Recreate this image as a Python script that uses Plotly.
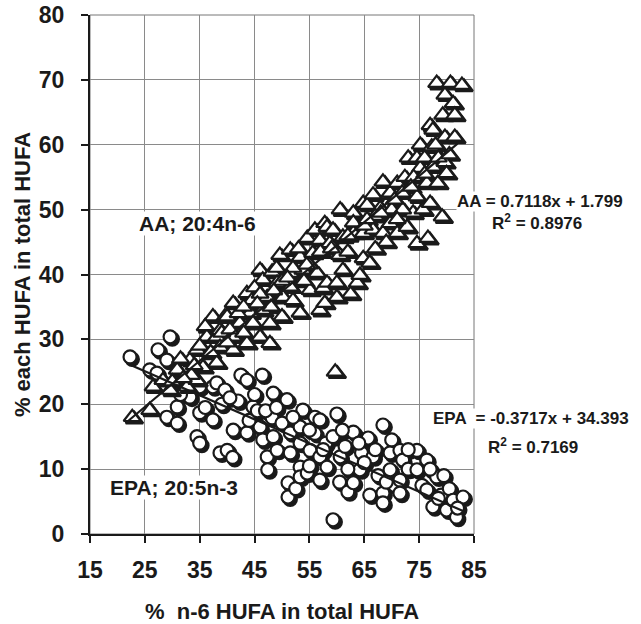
import plotly.graph_objects as go
import numpy as np

# ---- data ----
aa_x = [22.7, 25.9, 26.5, 28.3, 29.6, 30.9, 32.7, 33.2, 34.5, 34.5, 35.6, 36.3, 36.9, 37.4, 38.1, 38.1,
        38.7, 38.7, 39.6, 40.0, 41.1, 41.1, 41.1, 42.3, 43.6, 43.6, 44.2, 44.7, 46.0, 46.0, 46.5, 46.5,
        47.3, 47.8, 47.8, 48.2, 49.1, 49.6, 50.2, 51.5, 51.5, 51.5, 53.3, 53.3, 53.8, 54.6, 55.1, 55.6,
        56.0, 56.4, 56.9, 56.9, 57.5, 57.8, 57.8, 58.2, 58.2, 58.7, 59.3, 59.7, 60.0, 60.6, 61.1, 61.1,
        63.0, 63.0, 63.7, 64.2, 64.8, 64.8, 64.8, 65.5, 66.0, 66.6, 66.6, 67.9, 68.4, 68.4, 69.7, 69.7,
        71.0, 71.0, 71.9, 72.4, 72.8, 73.0, 73.9, 74.6, 74.6, 74.6, 75.2, 75.2, 75.7, 76.4, 76.6, 77.0,
        77.0, 77.3, 77.5, 77.5, 78.2, 78.4, 79.2, 79.3, 79.7, 79.7, 79.7, 80.0, 80.7, 81.2, 81.5, 81.5,
        82.8, 31.5, 33.5, 35.0, 36.0, 39.0, 40.0, 42.0, 43.0, 44.5, 45.0, 46.0, 48.0, 49.0, 50.0, 52.0,
        53.0, 54.0, 55.0, 52.0, 50.0, 60.5, 62.0, 63.0, 65.0, 67.0, 70.0, 72.0, 74.0, 76.0, 78.0, 71.0,
        69.0, 67.0, 62.5, 60.0, 30.0, 32.0, 34.0, 37.0, 40.5, 43.0, 45.5, 48.5, 51.0, 54.5, 57.0, 59.0,
        62.0, 65.5, 68.0, 70.5, 73.5, 76.0, 78.5, 80.5]
aa_y = [18.0, 19.1, 22.7, 23.7, 22.2, 25.3, 22.7, 26.8, 23.7, 28.4, 25.7, 30.4, 27.9, 33.5, 26.4, 30.4,
        31.4, 28.8, 33.5, 33.5, 30.4, 28.4, 35.6, 32.5, 37.1, 29.4, 34.1, 32.5, 40.7, 30.4, 39.2, 34.5,
        36.5, 32.5, 29.4, 40.4, 38.7, 43.0, 36.5, 43.8, 40.2, 38.1, 42.7, 34.1, 40.7, 45.6, 37.6, 43.3,
        46.9, 40.2, 45.3, 34.5, 37.9, 47.9, 35.6, 38.7, 47.3, 44.8, 46.9, 25.0, 38.7, 50.0, 45.8, 40.7,
        49.5, 46.4, 38.7, 39.9, 46.4, 42.5, 51.0, 50.7, 41.8, 46.9, 52.3, 50.2, 46.4, 54.3, 47.9, 52.6,
        46.4, 54.1, 52.6, 55.0, 47.3, 58.0, 49.5, 44.8, 52.0, 58.0, 60.0, 56.4, 50.0, 54.1, 45.6, 63.0,
        51.0, 59.7, 62.3, 56.6, 69.5, 54.1, 48.9, 64.6, 67.7, 61.2, 57.3, 55.6, 69.5, 66.4, 64.6, 61.2,
        69.2, 27.0, 24.5, 29.0, 32.0, 31.0, 29.5, 34.0, 31.0, 36.0, 38.0, 37.0, 35.0, 41.0, 39.0, 41.0,
        44.0, 39.0, 41.5, 36.0, 33.5, 43.0, 43.5, 48.0, 47.5, 49.0, 50.0, 50.0, 55.0, 58.0, 60.0, 48.5,
        45.0, 44.0, 37.0, 36.5, 23.5, 24.0, 26.0, 28.0, 31.5, 35.0, 35.5, 37.5, 39.5, 41.5, 43.5, 44.0,
        46.0, 48.5, 49.5, 51.5, 53.5, 55.5, 58.0, 58.5]

epa_x = [22.3, 25.9, 27.2, 27.4, 29.0, 29.6, 29.0, 30.9, 30.9, 32.0, 33.2, 34.5, 35.0, 35.0, 35.0, 37.4,
         37.4, 38.1, 38.7, 39.6, 40.0, 41.1, 41.0, 42.0, 42.5, 43.6, 43.6, 44.7, 45.0, 46.0, 46.4, 46.5,
         47.3, 47.4, 48.2, 48.4, 48.4, 49.1, 50.0, 50.9, 51.1, 51.1, 51.5, 51.5, 52.5, 53.3, 53.3, 53.3,
         53.3, 53.8, 54.6, 55.1, 56.0, 56.0, 56.9, 56.9, 56.9, 58.2, 58.0, 59.3, 59.3, 60.0, 60.6, 60.5,
         61.5, 62.0, 63.0, 63.0, 64.2, 64.5, 65.7, 66.0, 66.6, 67.5, 68.4, 68.4, 68.4, 69.7, 69.7, 70.5,
         71.5, 71.5, 71.5, 72.0, 73.0, 74.6, 74.6, 75.5, 76.4, 76.4, 77.5, 78.2, 79.0, 79.5, 80.0, 80.5,
         81.2, 81.8, 83.0, 82.0, 31.5, 36.0, 39.0, 40.5, 44.0, 45.5, 47.0, 49.0, 52.0, 55.0, 57.5, 62.0,
         65.0, 67.0, 70.0, 73.0, 55.0, 61.0, 64.0, 69.0, 77.0, 78.5]
epa_y = [27.3, 25.3, 24.8, 28.4, 26.8, 30.4, 18.0, 19.6, 17.1, 23.3, 21.1, 15.0, 14.0, 22.7, 18.7, 22.7,
         17.6, 23.3, 12.5, 22.2, 12.9, 16.0, 11.8, 20.5, 24.5, 23.7, 15.6, 19.6, 21.5, 16.5, 24.5, 14.5,
         11.9, 9.9, 17.9, 21.7, 15.0, 12.9, 17.1, 20.7, 7.9, 5.7, 15.6, 12.5, 7.0, 16.5, 14.0, 10.3,
         8.8, 19.1, 9.4, 12.9, 18.0, 15.5, 17.6, 11.9, 8.3, 10.3, 14.0, 15.0, 2.2, 18.5, 11.9, 8.0,
         13.5, 6.5, 15.7, 7.9, 9.9, 12.5, 14.8, 6.0, 11.9, 9.0, 16.8, 6.3, 4.8, 12.5, 9.9, 7.5,
         12.9, 8.3, 6.3, 11.4, 10.0, 12.9, 9.9, 7.5, 11.4, 6.8, 4.2, 8.8, 6.0, 9.0, 3.7, 7.0,
         5.2, 2.6, 5.7, 4.0, 21.5, 19.5, 20.0, 21.0, 17.5, 19.0, 19.0, 19.5, 18.0, 16.0, 13.0, 10.0,
         11.0, 13.0, 14.5, 13.0, 10.5, 16.0, 14.0, 8.0, 10.0, 5.5]

aa_slope, aa_icpt = 0.7118, 1.799
epa_slope, epa_icpt = -0.3717, 34.393
aa_fit_x = [22.0, 82.0]
epa_fit_x = [22.3, 83.0]

x_ticks = [15, 25, 35, 45, 55, 65, 75, 85]
y_ticks = [0, 10, 20, 30, 40, 50, 60, 70, 80]

FONT = "Liberation Sans, Arial, sans-serif"
INK = "#1a1a1a"

# shadow offset (data units, ~2px right / 2px down)
dx, dy = 0.4, 0.35

fig = go.Figure()

def add_series(xs, ys, symbol, size):
    xs = np.array(xs); ys = np.array(ys)
    fig.add_trace(go.Scatter(x=xs + dx, y=ys - dy, mode="markers", hoverinfo="skip",
                             marker=dict(symbol=symbol, size=size, color=INK,
                                         line=dict(color=INK, width=2.5)),
                             showlegend=False, cliponaxis=False))
    fig.add_trace(go.Scatter(x=xs, y=ys, mode="markers",
                             marker=dict(symbol=symbol, size=size, color="white",
                                         line=dict(color=INK, width=2.2)),
                             showlegend=False, cliponaxis=False))

add_series(epa_x, epa_y, "circle", 13)
add_series(aa_x, aa_y, "triangle-up", 15)

fig.add_trace(go.Scatter(x=aa_fit_x, y=[aa_slope * v + aa_icpt for v in aa_fit_x], mode="lines",
                         line=dict(color=INK, width=2.2), showlegend=False))
fig.add_trace(go.Scatter(x=epa_fit_x, y=[epa_slope * v + epa_icpt for v in epa_fit_x], mode="lines",
                         line=dict(color=INK, width=2.2), showlegend=False))

# plot area in window pixels: x 90..474, y 15..534
def px(xp):
    return (xp - 90) / 384.0

def py(yp):
    return (534 - yp) / 519.0

ann_font = dict(family=FONT, size=21, color=INK, weight="bold")
eq_font = dict(family=FONT, size=17, color=INK, weight="bold")
anns = [
    dict(x=px(197), y=py(223), text="AA; 20:4n-6", font=ann_font),
    dict(x=px(174), y=py(487), text="EPA; 20:5n-3", font=ann_font),
    dict(x=px(540), y=py(201), text="AA = 0.7118x + 1.799", font=eq_font),
    dict(x=px(537), y=py(222), text="R<sup>2</sup> = 0.8976", font=eq_font),
    dict(x=px(531), y=py(418), text="EPA  = -0.3717x + 34.393", font=eq_font),
    dict(x=px(533), y=py(446), text="R<sup>2</sup> = 0.7169", font=eq_font),
]
for a in anns:
    fig.add_annotation(xref="paper", yref="paper", showarrow=False, bgcolor="white",
                       borderpad=0, xanchor="center", yanchor="middle", **a)

fig.update_layout(
    width=641, height=624,
    margin=dict(l=90, r=167, t=15, b=90, autoexpand=False),
    paper_bgcolor="white", plot_bgcolor="white",
    font=dict(family=FONT, color=INK),
    shapes=[dict(type="rect", xref="paper", yref="paper", x0=0, y0=0, x1=1, y1=1,
                 line=dict(color="#777", width=1), layer="below")],
)
fig.update_xaxes(range=[15, 85], tickvals=x_ticks, showgrid=True, gridcolor="#8a8a8a", gridwidth=1,
                 zeroline=False, showline=True, linecolor=INK, linewidth=2, automargin=False,
                 ticks="outside", ticklen=7, tickwidth=1.5, tickcolor=INK,
                 tickfont=dict(family=FONT, size=23, color=INK, weight="bold"),
                 ticklabelstandoff=7,
                 title=dict(text="%  n-6 HUFA in total HUFA", standoff=27,
                            font=dict(family=FONT, size=22, color=INK, weight="bold")))
fig.update_yaxes(range=[0, 80], tickvals=y_ticks, showgrid=True, gridcolor="#8a8a8a", gridwidth=1,
                 zeroline=False, showline=True, linecolor=INK, linewidth=2, automargin=False,
                 ticks="outside", ticklen=7, tickwidth=1.5, tickcolor=INK,
                 tickfont=dict(family=FONT, size=23, color=INK, weight="bold"),
                 ticklabelstandoff=12,
                 title=dict(text="% each HUFA in total HUFA", standoff=2,
                            font=dict(family=FONT, size=22, color=INK, weight="bold")))

# remove the page's default 8px body margin so the figure fills the 641x624 window exactly
fig.write_html("out.html", config={"displayModeBar": False},
               post_script="document.body.style.margin='0px';")
